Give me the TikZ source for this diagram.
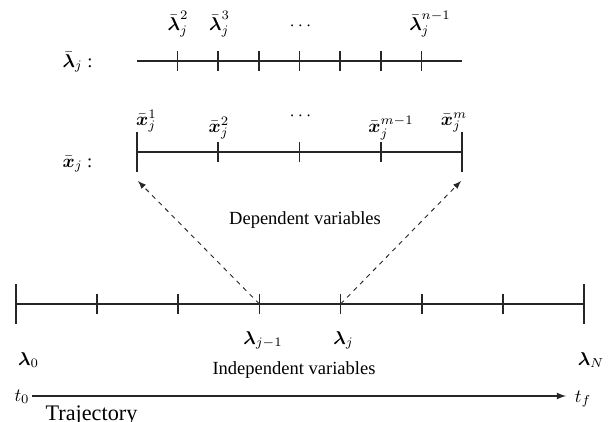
\documentclass[tikz,border=0pt]{standalone}
\usepackage{amsmath,amssymb}
\usepackage{fontspec}
\setmainfont{Liberation Serif}
\usepackage{tikz}
\usetikzlibrary{calc}
\usetikzlibrary{arrows}

\begin{document}
\begin{tikzpicture}[x = 0.54pt, y = -0.54pt]

\tikzstyle{axis_line}=[line width = 0.9pt, color = black!85]
\tikzstyle{dep_arrow}=[-latex, line width = 0.5pt, dash pattern = on 2.5pt off 2.5pt, color = black!85]
\tikzstyle{label_base}=[anchor = base, inner sep = 0pt]

\useasboundingbox (0, 0) rectangle (613, 421);

\coordinate (LB) at (137, 61);
\coordinate (LBe) at (462, 61);
\coordinate (XB) at (137, 152);
\coordinate (XBe) at (462, 152);
\coordinate (LA) at (16, 304);
\coordinate (LAe) at (584, 304);
\coordinate (tj1) at (259.4, 304);
\coordinate (tj) at (340.6, 304);
\coordinate (xa) at (138, 181);
\coordinate (xb) at (461, 181);
\coordinate (t0) at (32, 396);
\coordinate (tf) at (566, 396);

% axes
\draw[axis_line] (LB) -- (LBe);
\draw[axis_line] (XB) -- (XBe);
\draw[axis_line] (LA) -- (LAe);

% ticks
\foreach \k in {1,...,7}
  \draw[axis_line] ($(LB) + (40.625*\k, -10)$) -- ($(LB) + (40.625*\k, 10)$);
\foreach \k in {1,2,3}
  \draw[axis_line] ($(XB) + (81.25*\k, -10)$) -- ($(XB) + (81.25*\k, 10)$);
\foreach \k in {0,4}
  \draw[axis_line] ($(XB) + (81.25*\k, -20)$) -- ($(XB) + (81.25*\k, 20)$);
\foreach \k in {1,...,6}
  \draw[axis_line] ($(LA) + (81.14*\k, -10)$) -- ($(LA) + (81.14*\k, 10)$);
\foreach \k in {0,7}
  \draw[axis_line] ($(LA) + (81.14*\k, -20)$) -- ($(LA) + (81.14*\k, 20)$);

\path
(77.5, 67) node[label_base](lbl) {$\bar{\boldsymbol{\lambda}}_j$ :}
(178, 30) node[label_base](lb2) {$\bar{\boldsymbol{\lambda}}_j^2$}
(219.5, 30) node[label_base](lb3) {$\bar{\boldsymbol{\lambda}}_j^3$}
(302, 30) node[label_base](lbd) {$\cdots$}
(430, 30) node[label_base](lbn) {$\bar{\boldsymbol{\lambda}}_j^{n-1}$};

\path
(77.5, 167) node[label_base](xbl) {$\bar{\boldsymbol{x}}_j$ :}
(146.5, 125) node[label_base](xb1) {$\bar{\boldsymbol{x}}_j^1$}
(219, 132) node[label_base](xb2) {$\bar{\boldsymbol{x}}_j^2$}
(302, 120) node[label_base](xbd) {$\cdots$}
(391, 132) node[label_base](xbm1) {$\bar{\boldsymbol{x}}_j^{m-1}$}
(454, 125) node[label_base](xbm) {$\bar{\boldsymbol{x}}_j^m$}
(305, 224) node[label_base](dep) {Dependent variables};

\path
(263, 344) node[label_base](lj1) {$\boldsymbol{\lambda}_{j-1}$}
(343.5, 344) node[label_base](lj) {$\boldsymbol{\lambda}_j$}
(28.5, 365) node[label_base](l0) {$\boldsymbol{\lambda}_0$}
(591, 365) node[label_base](lN) {$\boldsymbol{\lambda}_N$}
(294, 374) node[label_base](indep) {Independent variables}
(22, 401) node[label_base](lt0) {$t_0$}
(583, 402) node[label_base](ltf) {$t_f$}
(91.5, 420) node[label_base, font = \fontsize{12}{14}\selectfont](traj) {Trajectory};

% dashed arrows
\draw[dep_arrow] (tj1) to (xa);
\draw[dep_arrow] (tj) to (xb);

% time arrow
\draw[-latex, line width = 0.7pt, color = black!85] (t0) to (tf);

\end{tikzpicture}
\end{document}
